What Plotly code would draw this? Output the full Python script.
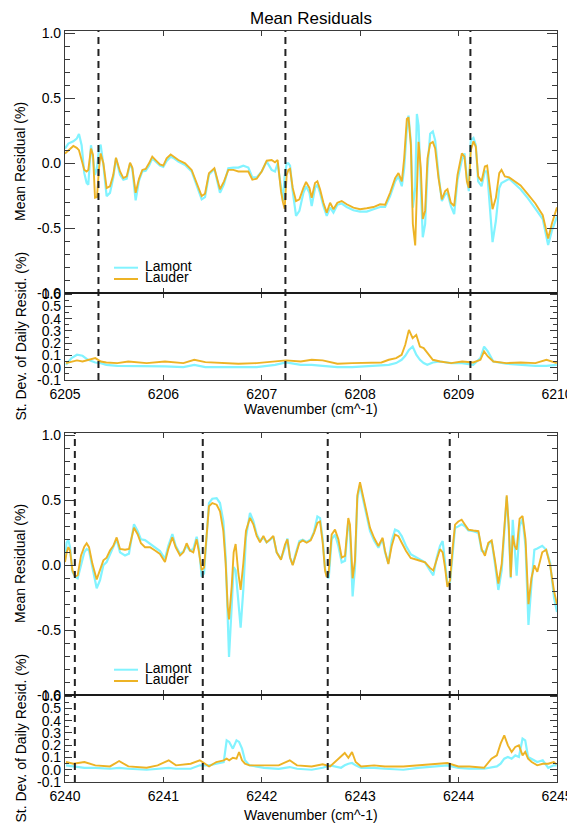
import plotly.graph_objects as go

# ---------------- DATA ----------------
# Top panel (6205-6210 cm^-1): mean residuals
top_wn = [6205.000, 6205.034, 6205.085, 6205.119, 6205.142, 6205.169, 6205.196, 6205.220, 6205.237, 6205.264,
          6205.285, 6205.305, 6205.325, 6205.346, 6205.362, 6205.390, 6205.423, 6205.457, 6205.491, 6205.518,
          6205.559, 6205.593, 6205.627, 6205.661, 6205.684, 6205.718, 6205.752, 6205.786, 6205.820, 6205.854,
          6205.887, 6205.921, 6205.965, 6205.999, 6206.033, 6206.074, 6206.108, 6206.152, 6206.220, 6206.287,
          6206.338, 6206.389, 6206.423, 6206.463, 6206.518, 6206.545, 6206.575, 6206.616, 6206.660, 6206.711,
          6206.762, 6206.812, 6206.863, 6206.904, 6206.948, 6206.999, 6207.050, 6207.100, 6207.134, 6207.161,
          6207.195, 6207.215, 6207.232, 6207.253, 6207.270, 6207.287, 6207.314, 6207.348, 6207.382, 6207.423,
          6207.450, 6207.484, 6207.507, 6207.541, 6207.565, 6207.592, 6207.626, 6207.660, 6207.694, 6207.728,
          6207.768, 6207.812, 6207.863, 6207.931, 6207.999, 6208.067, 6208.135, 6208.202, 6208.253, 6208.304,
          6208.355, 6208.389, 6208.423, 6208.447, 6208.474, 6208.491, 6208.515, 6208.535, 6208.559, 6208.576,
          6208.593, 6208.616, 6208.636, 6208.660, 6208.684, 6208.711, 6208.738, 6208.762, 6208.796, 6208.830,
          6208.863, 6208.887, 6208.921, 6208.955, 6208.989, 6209.033, 6209.060, 6209.084, 6209.104, 6209.124,
          6209.151, 6209.175, 6209.199, 6209.233, 6209.267, 6209.290, 6209.317, 6209.345, 6209.379, 6209.413,
          6209.436, 6209.470, 6209.514, 6209.630, 6209.705, 6209.780, 6209.855, 6209.910, 6209.950, 6210.000]
top_lauder = [0.076, 0.101, 0.134, 0.119, 0.101, 0.025, -0.051, -0.063, -0.051, 0.114,
              0.063, -0.266, -0.261, -0.038, 0.076, 0.000, -0.190, -0.177, -0.089, 0.043,
              -0.063, -0.114, -0.101, 0.005, -0.033, -0.228, -0.119, -0.051, -0.043, 0.000,
              0.051, 0.025, -0.008, -0.018, 0.038, 0.068, 0.051, 0.025, 0.000, -0.051,
              -0.152, -0.253, -0.235, -0.076, -0.038, -0.119, -0.200, -0.139, -0.051, -0.051,
              -0.063, -0.063, -0.063, -0.127, -0.119, -0.063, 0.020, 0.025, 0.008, 0.025,
              -0.215, -0.300, -0.350, -0.089, -0.051, -0.043, -0.190, -0.291, -0.278, -0.190,
              -0.144, -0.190, -0.266, -0.152, -0.139, -0.200, -0.304, -0.380, -0.304, -0.354,
              -0.304, -0.291, -0.316, -0.342, -0.354, -0.347, -0.337, -0.316, -0.320, -0.228,
              -0.114, -0.076, -0.139, 0.038, 0.342, 0.354, 0.139, -0.468, -0.633, -0.215,
              0.165, -0.038, -0.430, -0.367, 0.038, 0.152, 0.165, 0.114, -0.114, -0.278,
              -0.215, -0.200, -0.304, -0.329, -0.089, 0.076, 0.051, -0.139, -0.190, 0.101,
              0.170, 0.127, -0.101, -0.139, -0.025, -0.018, -0.190, -0.354, -0.266, -0.076,
              -0.051, -0.101, -0.109, -0.170, -0.240, -0.310, -0.400, -0.580, -0.460, -0.340]
top_lamont = [0.114, 0.152, 0.170, 0.190, 0.225, 0.139, -0.076, -0.152, -0.165, 0.139,
              0.038, -0.089, -0.038, 0.114, 0.144, -0.013, -0.253, -0.228, -0.109, 0.038,
              -0.089, -0.127, -0.119, -0.003, -0.043, -0.286, -0.134, -0.063, -0.058, -0.018,
              0.038, 0.013, -0.018, -0.028, 0.018, 0.051, 0.038, 0.013, -0.013, -0.063,
              -0.170, -0.278, -0.261, -0.089, -0.043, -0.134, -0.228, -0.160, -0.038, -0.033,
              -0.033, -0.018, -0.033, -0.109, -0.109, -0.063, 0.013, -0.051, -0.063, 0.000,
              -0.190, -0.290, -0.100, 0.000, 0.000, -0.018, -0.215, -0.405, -0.367, -0.228,
              -0.177, -0.228, -0.329, -0.190, -0.165, -0.228, -0.329, -0.405, -0.342, -0.380,
              -0.320, -0.310, -0.337, -0.362, -0.372, -0.372, -0.354, -0.337, -0.337, -0.253,
              -0.139, -0.101, -0.177, -0.038, 0.266, 0.367, 0.165, -0.342, -0.190, 0.380,
              0.290, -0.215, -0.570, -0.468, -0.038, 0.228, 0.246, 0.177, -0.089, -0.291,
              -0.241, -0.228, -0.329, -0.392, -0.127, 0.025, 0.076, -0.114, -0.215, 0.177,
              0.195, 0.139, -0.139, -0.177, -0.063, -0.063, -0.316, -0.608, -0.443, -0.190,
              -0.152, -0.139, -0.119, -0.200, -0.270, -0.350, -0.430, -0.630, -0.515, -0.410]

# Top panel: standard deviation of daily residuals
top_sd_wn = [6205.010, 6205.066, 6205.122, 6205.178, 6205.234, 6205.308, 6205.364, 6205.420, 6205.532, 6205.643,
             6205.830, 6206.016, 6206.203, 6206.314, 6206.426, 6206.575, 6206.762, 6206.948, 6207.135, 6207.247,
             6207.396, 6207.507, 6207.619, 6207.768, 6207.918, 6208.067, 6208.216, 6208.291, 6208.365, 6208.421,
             6208.458, 6208.495, 6208.533, 6208.570, 6208.607, 6208.645, 6208.682, 6208.738, 6208.812, 6208.924,
             6209.036, 6209.148, 6209.222, 6209.259, 6209.297, 6209.353, 6209.483, 6209.632, 6209.781, 6209.893,
             6209.998]
top_sd_lauder = [0.038, 0.051, 0.060, 0.051, 0.065, 0.079, 0.051, 0.043, 0.038, 0.051,
                 0.038, 0.051, 0.038, 0.065, 0.046, 0.038, 0.033, 0.038, 0.051, 0.060,
                 0.051, 0.065, 0.060, 0.033, 0.038, 0.038, 0.043, 0.065, 0.079, 0.106,
                 0.187, 0.309, 0.241, 0.268, 0.173, 0.160, 0.119, 0.065, 0.051, 0.038,
                 0.051, 0.043, 0.065, 0.133, 0.092, 0.051, 0.038, 0.043, 0.038, 0.065,
                 0.038]
top_sd_lamont = [0.024, 0.079, 0.106, 0.098, 0.065, 0.043, 0.038, 0.024, 0.016, 0.016,
                 0.011, 0.011, 0.005, 0.024, 0.005, 0.005, 0.005, 0.005, 0.024, 0.043,
                 0.024, 0.024, 0.016, 0.005, 0.005, 0.011, 0.016, 0.024, 0.038, 0.065,
                 0.098, 0.146, 0.173, 0.106, 0.065, 0.038, 0.024, 0.043, 0.051, 0.038,
                 0.038, 0.024, 0.079, 0.173, 0.133, 0.051, 0.033, 0.024, 0.016, 0.016,
                 0.024]

# Bottom panel (6240-6245 cm^-1): mean residuals
bot_wn = [6240.000, 6240.017, 6240.034, 6240.051, 6240.075, 6240.102, 6240.129, 6240.163, 6240.196, 6240.220,
          6240.244, 6240.278, 6240.322, 6240.356, 6240.390, 6240.423, 6240.457, 6240.491, 6240.525, 6240.559,
          6240.610, 6240.650, 6240.701, 6240.738, 6240.772, 6240.813, 6240.864, 6240.915, 6240.965, 6241.016,
          6241.050, 6241.091, 6241.125, 6241.169, 6241.203, 6241.236, 6241.270, 6241.304, 6241.338, 6241.362,
          6241.389, 6241.413, 6241.440, 6241.463, 6241.497, 6241.541, 6241.575, 6241.609, 6241.633, 6241.653,
          6241.667, 6241.694, 6241.714, 6241.734, 6241.762, 6241.785, 6241.812, 6241.839, 6241.880, 6241.914,
          6241.948, 6241.982, 6242.016, 6242.049, 6242.083, 6242.117, 6242.151, 6242.195, 6242.236, 6242.260,
          6242.287, 6242.314, 6242.348, 6242.382, 6242.416, 6242.456, 6242.497, 6242.531, 6242.565, 6242.592,
          6242.619, 6242.643, 6242.659, 6242.680, 6242.710, 6242.744, 6242.778, 6242.812, 6242.846, 6242.879,
          6242.896, 6242.923, 6242.947, 6242.971, 6242.998, 6243.032, 6243.066, 6243.100, 6243.141, 6243.185,
          6243.228, 6243.252, 6243.286, 6243.320, 6243.354, 6243.388, 6243.422, 6243.466, 6243.513, 6243.557,
          6243.608, 6243.659, 6243.709, 6243.743, 6243.777, 6243.811, 6243.838, 6243.862, 6243.886, 6243.913,
          6243.940, 6243.964, 6243.997, 6244.031, 6244.065, 6244.099, 6244.150, 6244.201, 6244.235, 6244.268,
          6244.302, 6244.336, 6244.370, 6244.404, 6244.438, 6244.472, 6244.489, 6244.510, 6244.530, 6244.550,
          6244.570, 6244.590, 6244.620, 6244.650, 6244.680, 6244.710, 6244.740, 6244.770, 6244.800, 6244.850,
          6244.890, 6244.930, 6244.970, 6245.000]
bot_lauder = [0.025, 0.100, 0.140, 0.114, -0.038, -0.088, -0.076, 0.076, 0.144, 0.170,
              0.140, 0.013, -0.109, -0.038, 0.038, 0.058, 0.114, 0.150, 0.215, 0.126,
              0.120, 0.126, 0.290, 0.240, 0.170, 0.139, 0.139, 0.114, 0.088, 0.025,
              0.126, 0.215, 0.139, 0.076, 0.100, 0.170, 0.114, 0.100, 0.200, 0.100,
              -0.038, -0.018, 0.265, 0.455, 0.480, 0.467, 0.417, 0.265, 0.013, -0.316,
              -0.417, -0.164, 0.100, 0.164, -0.063, -0.190, 0.013, 0.265, 0.366, 0.316,
              0.227, 0.177, 0.227, 0.177, 0.200, 0.227, 0.100, 0.043, 0.160, 0.200,
              0.060, 0.000, 0.086, 0.174, 0.192, 0.174, 0.192, 0.250, 0.326, 0.338,
              0.174, -0.040, -0.090, -0.053, 0.237, 0.275, 0.200, 0.060, 0.073, 0.364,
              0.313, -0.100, 0.035, 0.540, 0.640, 0.515, 0.390, 0.288, 0.212, 0.149,
              0.212, 0.111, 0.010, 0.149, 0.237, 0.225, 0.174, 0.111, 0.056, 0.048,
              0.035, 0.023, -0.020, -0.040, 0.035, 0.124, 0.100, -0.015, -0.167, -0.116,
              0.136, 0.313, 0.338, 0.351, 0.313, 0.275, 0.268, 0.263, 0.124, 0.073,
              0.174, 0.192, 0.035, -0.141, 0.010, 0.389, 0.540, 0.300, -0.090, 0.230,
              0.150, 0.120, 0.360, 0.380, 0.200, -0.300, -0.100, 0.000, -0.050, 0.100,
              0.120, 0.000, -0.200, -0.300]
bot_lamont = [0.038, 0.177, 0.195, 0.140, -0.050, -0.088, -0.100, 0.013, 0.100, 0.126,
              0.114, -0.013, -0.177, -0.114, 0.000, 0.025, 0.088, 0.139, 0.200, 0.100,
              0.076, 0.090, 0.316, 0.265, 0.200, 0.194, 0.164, 0.139, 0.110, 0.050,
              0.150, 0.240, 0.150, 0.088, 0.107, 0.150, 0.114, 0.126, 0.220, 0.126,
              -0.088, -0.063, 0.240, 0.480, 0.513, 0.518, 0.480, 0.341, 0.063, -0.417,
              -0.707, -0.316, -0.013, -0.038, -0.316, -0.480, -0.190, 0.215, 0.404, 0.341,
              0.240, 0.190, 0.215, 0.177, 0.195, 0.220, 0.100, 0.050, 0.136, 0.207,
              0.060, 0.005, 0.100, 0.187, 0.197, 0.180, 0.200, 0.260, 0.376, 0.364,
              0.200, -0.028, -0.078, -0.100, 0.200, 0.237, 0.149, 0.023, 0.035, 0.338,
              0.263, -0.240, -0.015, 0.515, 0.616, 0.500, 0.376, 0.263, 0.192, 0.136,
              0.200, 0.100, 0.015, 0.187, 0.275, 0.263, 0.225, 0.149, 0.086, 0.066,
              0.040, 0.023, -0.040, -0.078, 0.056, 0.149, 0.187, 0.023, -0.141, -0.130,
              0.110, 0.288, 0.300, 0.316, 0.300, 0.268, 0.263, 0.250, 0.110, 0.100,
              0.160, 0.187, 0.010, -0.190, -0.040, 0.364, 0.528, 0.280, -0.100, 0.350,
              0.100, -0.080, 0.300, 0.360, 0.150, -0.460, -0.150, 0.120, 0.130, 0.150,
              0.120, 0.020, -0.250, -0.360]

# Bottom panel: standard deviation of daily residuals
bot_sd_wn = [6240.010, 6240.085, 6240.197, 6240.308, 6240.457, 6240.550, 6240.644, 6240.830, 6240.942, 6241.054,
             6241.128, 6241.277, 6241.370, 6241.464, 6241.538, 6241.613, 6241.643, 6241.669, 6241.706, 6241.743,
             6241.769, 6241.799, 6241.829, 6241.874, 6242.023, 6242.172, 6242.284, 6242.358, 6242.507, 6242.619,
             6242.694, 6242.805, 6242.843, 6242.880, 6242.917, 6242.954, 6243.010, 6243.141, 6243.252, 6243.439,
             6243.588, 6243.737, 6243.886, 6243.998, 6244.110, 6244.259, 6244.334, 6244.389, 6244.427, 6244.464,
             6244.501, 6244.539, 6244.576, 6244.613, 6244.650, 6244.677, 6244.706, 6244.743, 6244.799, 6244.855,
             6244.911, 6244.967, 6244.997]
bot_sd_lauder = [0.063, 0.049, 0.063, 0.036, 0.027, 0.071, 0.027, 0.016, 0.036, 0.077,
                 0.036, 0.049, 0.077, 0.027, 0.063, 0.077, 0.090, 0.077, 0.098, 0.090,
                 0.145, 0.077, 0.049, 0.036, 0.036, 0.036, 0.077, 0.036, 0.027, 0.044,
                 0.027, 0.104, 0.137, 0.098, 0.145, 0.063, 0.027, 0.036, 0.027, 0.027,
                 0.036, 0.044, 0.055, 0.027, 0.027, 0.016, 0.090, 0.117, 0.213, 0.281,
                 0.199, 0.145, 0.186, 0.199, 0.117, 0.145, 0.090, 0.063, 0.036, 0.049,
                 0.049, 0.063, 0.044]
bot_sd_lamont = [0.036, 0.027, 0.016, 0.016, 0.008, 0.016, 0.008, 0.000, 0.008, 0.016,
                 0.008, 0.008, 0.036, 0.036, 0.049, 0.063, 0.240, 0.227, 0.172, 0.240,
                 0.227, 0.172, 0.077, 0.036, 0.016, 0.008, 0.022, 0.008, 0.000, 0.016,
                 0.036, 0.016, 0.036, 0.049, 0.055, 0.036, 0.016, 0.016, 0.008, 0.000,
                 0.016, 0.027, 0.036, 0.016, 0.008, 0.008, 0.016, 0.027, 0.049, 0.090,
                 0.104, 0.090, 0.117, 0.104, 0.254, 0.240, 0.104, 0.090, 0.063, 0.077,
                 0.016, 0.036, 0.036]

# Vertical dashed markers (wavenumbers)
top_dashes = [6205.34, 6207.24, 6209.12]
bot_dashes = [6240.10, 6241.40, 6242.67, 6243.91]

# Axis ranges / ticks
top_xrange = [6205, 6210]
bot_xrange = [6240, 6245]
mean_yrange = [-1.0, 1.02]
sd_yrange = [-0.1, 0.61]
mean_tickvals = [-1.0, -0.5, 0.0, 0.5, 1.0]
mean_ticktext = ["-1.0", "-0.5", "0.0", "0.5", "1.0"]
sd_tickvals = [-0.1, 0.0, 0.1, 0.2, 0.3, 0.4, 0.5, 0.6]
sd_ticktext = ["-0.1", "0.0", "0.1", "0.2", "0.3", "0.4", "0.5", "0.6"]

series_names = ["Lamont", "Lauder"]
CYAN = "#82F3FF"
ORANGE = "#EDB325"

# ---------------- LAYOUT GEOMETRY ----------------
# The page body has an 8px margin, so the figure is offset by 8px in the window.
OFF = 8
W, H = 575 - OFF, 827 - OFF
FONT = "Liberation Sans, Arial, Helvetica, sans-serif"
AXC = "#3a3a3a"


def py(p):  # window pixel y (from top) -> paper
    return 1 - (p - OFF) / H


def px(p):  # window pixel x -> paper
    return (p - OFF) / W


x_dom = [px(65), px(557)]
dom = {
    "top_main": [py(293), py(31)],
    "top_sd": [py(380), py(293)],
    "bot_main": [py(695), py(433)],
    "bot_sd": [py(782), py(695)],
}

fig = go.Figure()

panels = [
    ("x", "y", top_wn, top_lamont, top_lauder),
    ("x2", "y2", top_sd_wn, top_sd_lamont, top_sd_lauder),
    ("x3", "y3", bot_wn, bot_lamont, bot_lauder),
    ("x4", "y4", bot_sd_wn, bot_sd_lamont, bot_sd_lauder),
]
for xa, ya, xs, lam, lau in panels:
    fig.add_trace(go.Scatter(x=xs, y=lam, mode="lines", name=series_names[0], xaxis=xa, yaxis=ya,
                             line=dict(color=CYAN, width=2.2), showlegend=False))
    fig.add_trace(go.Scatter(x=xs, y=lau, mode="lines", name=series_names[1], xaxis=xa, yaxis=ya,
                             line=dict(color=ORANGE, width=1.9), showlegend=False))


def xax(rng, anchor, labels):
    return dict(domain=x_dom, range=rng, anchor=anchor, showgrid=False, zeroline=False,
                tickmode="linear", tick0=rng[0], dtick=1, ticks="inside", ticklen=5, tickwidth=1.3,
                tickcolor=AXC, showline=True, linecolor=AXC, linewidth=1.2, mirror="ticks",
                showticklabels=labels, tickformat="d",
                tickfont=dict(family=FONT, size=14, color="black"), ticklabelstandoff=1)


def yax(d, rng, vals, text, major_len, minor_dtick, minor_len, anchor):
    return dict(domain=d, range=rng, anchor=anchor, showgrid=False, zeroline=False,
                tickmode="array", tickvals=vals, ticktext=text, ticks="inside", ticklen=major_len,
                tickwidth=1.3, tickcolor=AXC, showline=True, linecolor=AXC, linewidth=1.2,
                mirror="ticks", tickfont=dict(family=FONT, size=14, color="black"),
                minor=dict(tickmode="linear", tick0=0, dtick=minor_dtick, ticklen=minor_len,
                           tickcolor=AXC, tickwidth=1.2, ticks="inside"))


fig.update_layout(
    width=W, height=H, margin=dict(l=0, r=0, t=0, b=0, autoexpand=False),
    paper_bgcolor="white", plot_bgcolor="white",
    font=dict(family=FONT, size=14, color="black"),
    xaxis=xax(top_xrange, "y", False),
    xaxis2=xax(top_xrange, "y2", True),
    xaxis3=xax(bot_xrange, "y3", False),
    xaxis4=xax(bot_xrange, "y4", True),
    yaxis=yax(dom["top_main"], mean_yrange, mean_tickvals, mean_ticktext, 10, 0.1, 5, "x"),
    yaxis2=yax(dom["top_sd"], sd_yrange, sd_tickvals, sd_ticktext, 7, 0.05, 4, "x2"),
    yaxis3=yax(dom["bot_main"], mean_yrange, mean_tickvals, mean_ticktext, 10, 0.1, 5, "x3"),
    yaxis4=yax(dom["bot_sd"], sd_yrange, sd_tickvals, sd_ticktext, 7, 0.05, 4, "x4"),
)

shapes = []
# dashed vertical markers spanning main + sd panels
for xa, dashes, y0, y1 in [("x", top_dashes, dom["top_sd"][0], dom["top_main"][1]),
                           ("x3", bot_dashes, dom["bot_sd"][0], dom["bot_main"][1])]:
    for d in dashes:
        shapes.append(dict(type="line", xref=xa, yref="paper", x0=d, x1=d, y0=y0, y1=y1,
                           line=dict(color="#222222", width=2, dash="7px,5px"), layer="above"))
# separator between main and sd panels
for ysep in [dom["top_sd"][1], dom["bot_sd"][1]]:
    shapes.append(dict(type="line", xref="paper", yref="paper", x0=x_dom[0], x1=x_dom[1],
                       y0=ysep, y1=ysep, line=dict(color="#111111", width=1.6), layer="above"))

annotations = []
# legends (drawn manually, compact like the original)
for off in [0, 402]:
    for i, (name, col) in enumerate(zip(series_names, [CYAN, ORANGE])):
        yl = 267.7 + off + i * 11.3
        shapes.append(dict(type="line", xref="paper", yref="paper", x0=px(114), x1=px(138),
                           y0=py(yl), y1=py(yl), line=dict(color=col, width=2)))
        annotations.append(dict(text=name, xref="paper", yref="paper", x=px(143), y=py(yl - 2),
                                xanchor="left", yanchor="middle", showarrow=False,
                                font=dict(family=FONT, size=14, color="black")))

annotations.append(dict(text="Mean Residuals", xref="paper", yref="paper", x=px(311), y=py(19),
                        xanchor="center", yanchor="middle", showarrow=False,
                        font=dict(family=FONT, size=17, color="black")))
for yc in [162, 564]:
    annotations.append(dict(text="Mean Residual (%)", xref="paper", yref="paper", x=px(20), y=py(yc),
                            xanchor="center", yanchor="middle", textangle=-90, showarrow=False,
                            font=dict(family=FONT, size=14, color="black")))
for yc in [336.5, 738.5]:
    annotations.append(dict(text="St. Dev. of Daily Resid. (%)", xref="paper", yref="paper", x=px(20),
                            y=py(yc), xanchor="center", yanchor="middle", textangle=-90,
                            showarrow=False, font=dict(family=FONT, size=14, color="black")))
for yc in [409, 815]:
    annotations.append(dict(text="Wavenumber (cm^-1)", xref="paper", yref="paper", x=px(311), y=py(yc),
                            xanchor="center", yanchor="middle", showarrow=False,
                            font=dict(family=FONT, size=14, color="black")))

fig.update_layout(shapes=shapes, annotations=annotations)
fig.write_html("out.html")
